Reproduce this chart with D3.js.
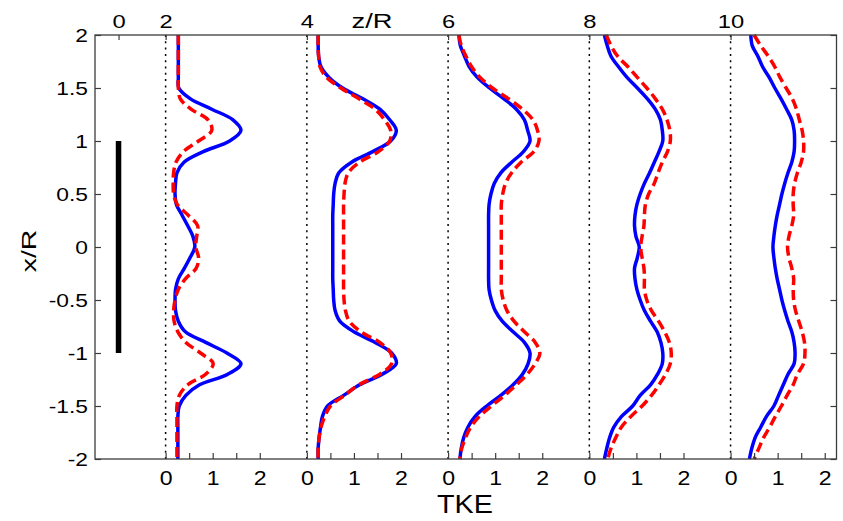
<!DOCTYPE html>
<html>
<head>
<meta charset="utf-8">
<script src="https://cdn.jsdelivr.net/npm/d3@7"></script>
<style>
  body { margin: 0; background: #fff; }
  svg { display: block; background: #fff; }
  text { font-family: "Liberation Sans", Arial, Helvetica, sans-serif; fill: #000; }
</style>
</head>
<body>
<svg id="chart" width="843" height="521"></svg>
<script>
// Transverse coordinate x/R, sampled from the top of the plot to the bottom
const xR = [2.0, 1.9, 1.8, 1.7, 1.6, 1.5, 1.4, 1.3, 1.2, 1.1, 1.0, 0.9, 0.8, 0.7, 0.6, 0.5, 0.4, 0.3, 0.2, 0.1, 0.0,
  -0.1, -0.2, -0.3, -0.4, -0.5, -0.6, -0.7, -0.8, -0.9, -1.0, -1.1, -1.2, -1.3, -1.4, -1.5, -1.6, -1.7, -1.8, -1.9, -2.0];

// Downstream stations z/R where the TKE profiles are taken
const stations = [2, 4, 6, 8, 10];

// TKE profiles, solid (blue) series
const blueZ2  = [0.27,0.27,0.27,0.27,0.27,0.28,0.52,0.98,1.43,1.60,1.36,0.80,0.39,0.24,0.21,0.20,0.23,0.35,0.47,0.58,0.62,
  0.52,0.40,0.27,0.21,0.20,0.21,0.27,0.42,0.85,1.30,1.60,1.32,0.72,0.43,0.29,0.26,0.26,0.26,0.26,0.26];
const blueZ4  = [0.24,0.24,0.25,0.30,0.47,0.76,1.18,1.55,1.76,1.90,1.78,1.40,0.95,0.68,0.60,0.57,0.56,0.55,0.55,0.55,0.55,
  0.55,0.55,0.55,0.56,0.57,0.60,0.70,1.00,1.45,1.80,1.90,1.60,1.12,0.78,0.44,0.33,0.29,0.26,0.24,0.24];
const blueZ6  = [0.23,0.26,0.35,0.45,0.62,0.88,1.18,1.45,1.62,1.69,1.74,1.60,1.35,1.12,0.98,0.91,0.87,0.86,0.86,0.86,0.86,
  0.86,0.86,0.86,0.87,0.92,1.00,1.15,1.38,1.62,1.74,1.70,1.58,1.38,1.12,0.82,0.57,0.42,0.33,0.28,0.25];
const blueZ8  = [0.32,0.38,0.46,0.62,0.80,1.02,1.23,1.40,1.51,1.55,1.56,1.48,1.38,1.28,1.17,1.08,1.01,0.97,0.96,0.99,1.06,
  1.02,0.96,0.97,1.01,1.08,1.17,1.30,1.44,1.52,1.56,1.55,1.45,1.30,1.08,0.92,0.68,0.52,0.43,0.37,0.32];
const blueZ10 = [0.43,0.46,0.58,0.68,0.82,0.94,1.07,1.19,1.30,1.35,1.36,1.35,1.30,1.22,1.15,1.09,1.04,0.99,0.95,0.92,0.90,
  0.92,0.95,0.99,1.04,1.09,1.15,1.22,1.30,1.35,1.37,1.35,1.22,1.12,1.02,0.92,0.76,0.64,0.52,0.45,0.40];

// TKE profiles, dashed (red) series
const redZ2  = [0.27,0.27,0.27,0.27,0.27,0.27,0.31,0.54,0.90,0.98,0.70,0.38,0.22,0.17,0.16,0.17,0.25,0.48,0.68,0.66,0.64,
  0.70,0.65,0.42,0.27,0.20,0.17,0.18,0.26,0.43,0.74,1.01,0.85,0.47,0.29,0.24,0.24,0.24,0.24,0.24,0.24];
const redZ4  = [0.24,0.24,0.25,0.28,0.42,0.72,1.10,1.45,1.65,1.78,1.76,1.52,1.12,0.88,0.81,0.79,0.78,0.78,0.78,0.78,0.78,
  0.78,0.78,0.78,0.78,0.79,0.82,0.90,1.15,1.55,1.78,1.80,1.55,1.10,0.80,0.50,0.38,0.30,0.26,0.24,0.24];
const redZ6  = [0.23,0.28,0.38,0.50,0.68,0.94,1.28,1.58,1.80,1.90,1.93,1.82,1.55,1.35,1.22,1.16,1.13,1.13,1.13,1.13,1.13,
  1.13,1.13,1.13,1.13,1.17,1.25,1.40,1.62,1.85,1.95,1.85,1.68,1.45,1.20,0.92,0.66,0.48,0.37,0.29,0.25];
const redZ8  = [0.36,0.46,0.60,0.82,1.02,1.22,1.40,1.55,1.65,1.71,1.72,1.66,1.55,1.46,1.38,1.26,1.19,1.17,1.16,1.12,1.09,
  1.12,1.16,1.17,1.17,1.22,1.32,1.47,1.60,1.70,1.74,1.72,1.62,1.48,1.32,1.12,0.88,0.68,0.56,0.46,0.39];
const redZ10 = [0.50,0.64,0.80,0.94,1.05,1.18,1.31,1.40,1.46,1.52,1.55,1.55,1.50,1.42,1.36,1.33,1.33,1.34,1.30,1.24,1.21,
  1.24,1.30,1.34,1.33,1.34,1.38,1.45,1.52,1.57,1.58,1.55,1.42,1.33,1.20,1.08,0.95,0.83,0.70,0.60,0.50];

const blueProfiles = [blueZ2, blueZ4, blueZ6, blueZ8, blueZ10];
const redProfiles  = [redZ2, redZ4, redZ6, redZ8, redZ10];

// Axis ticks and labels
const zTickValues = [4 / 3, 2, 4, 6, 8, 10];
const zTickLabels = ["0", "2", "4", "6", "8", "10"];
const yTickValues = [-2, -1.5, -1, -0.5, 0, 0.5, 1, 1.5, 2];
const yTickLabels = ["-2", "-1.5", "-1", "-0.5", "0", "0.5", "1", "1.5", "2"];
const tkeTickValues = [0, 0.5, 1, 1.5, 2];
const tkeTickLabels = ["0", "", "1", "", "2"];

// Rotor disc drawn at the z/R = 0 marker, spanning x/R from -1 to 1
const diskZ = 4 / 3;
const diskSpan = [-1, 1];

// One TKE unit spans two thirds of a z/R unit
const tkeToZ = 2 / 3;

const width = 843, height = 521;
const margin = { left: 95, right: 6.5, top: 35, bottom: 62 };

const svg = d3.select("#chart");

const x = d3.scaleLinear().domain([1, 11.5]).range([margin.left, width - margin.right]);
const y = d3.scaleLinear().domain([-2, 2]).range([height - margin.bottom, margin.top]);

const axisColor = "#3c3c3c";

// Stretch glyphs horizontally while keeping each label's anchor where the axis put it
function stretch(sel, sx) {
  sel.each(function () {
    const t = d3.select(this);
    const x0 = +t.attr("x") || 0;
    t.attr("x", x0 / sx).attr("transform", `scale(${sx},1)`);
  });
}

function styleAxis(g) {
  g.select(".domain").remove();
  g.selectAll(".tick line").attr("stroke", axisColor).attr("stroke-width", 1.2);
}

// Station reference lines (TKE = 0)
svg.append("g")
  .selectAll("line")
  .data(stations)
  .join("line")
  .attr("x1", d => x(d)).attr("x2", d => x(d))
  .attr("y1", y(2)).attr("y2", y(-2))
  .attr("stroke", "#000")
  .attr("stroke-width", 1.5)
  .attr("stroke-dasharray", "2,4.3");

// Rotor disc
svg.append("line")
  .attr("x1", x(diskZ)).attr("x2", x(diskZ))
  .attr("y1", y(diskSpan[1])).attr("y2", y(diskSpan[0]))
  .attr("stroke", "#000")
  .attr("stroke-width", 5.5);

// Profiles
const line = (station) => d3.line()
  .x(d => x(station + d[1] * tkeToZ))
  .y(d => y(d[0]))
  .curve(d3.curveCatmullRom.alpha(0.5));

const plot = svg.append("g");
stations.forEach((s, i) => {
  plot.append("path")
    .datum(xR.map((v, k) => [v, blueProfiles[i][k]]))
    .attr("fill", "none")
    .attr("stroke", "#0000ff")
    .attr("stroke-width", 3.5)
    .attr("stroke-linejoin", "round")
    .attr("d", line(s));
});
stations.forEach((s, i) => {
  plot.append("path")
    .datum(xR.map((v, k) => [v, redProfiles[i][k]]))
    .attr("fill", "none")
    .attr("stroke", "#ff0000")
    .attr("stroke-width", 3.5)
    .attr("stroke-dasharray", "10,5")
    .attr("d", line(s));
});

// Frame
svg.append("rect")
  .attr("x", x(1)).attr("y", y(2))
  .attr("width", x(11.5) - x(1)).attr("height", y(-2) - y(2))
  .attr("fill", "none")
  .attr("stroke", axisColor)
  .attr("stroke-width", 1.3);

// Left axis
const yLeft = svg.append("g")
  .attr("transform", `translate(${x(1)},0)`)
  .call(d3.axisLeft(y).tickValues(yTickValues)
    .tickFormat((d, i) => yTickLabels[i]).tickSize(-6).tickPadding(7))
  .call(styleAxis);
yLeft.selectAll("text").attr("font-size", 19).call(stretch, 1.2);

// Right axis (ticks only)
svg.append("g")
  .attr("transform", `translate(${x(11.5)},0)`)
  .call(d3.axisRight(y).tickValues(yTickValues).tickFormat("").tickSize(-6))
  .call(styleAxis);

// Top axis: z/R
const zTop = svg.append("g")
  .attr("transform", `translate(0,${y(2)})`)
  .call(d3.axisTop(x).tickValues(zTickValues)
    .tickFormat((d, i) => zTickLabels[i]).tickSize(-5).tickPadding(7))
  .call(styleAxis);
zTop.selectAll("text").attr("font-size", 19).call(stretch, 1.25);

// Bottom axes: one TKE scale per station
stations.forEach(s => {
  const tke = d3.scaleLinear().domain([0, 1]).range([x(s), x(s + tkeToZ)]);
  const g = svg.append("g")
    .attr("transform", `translate(0,${y(-2)})`)
    .call(d3.axisBottom(tke).tickValues(tkeTickValues)
      .tickFormat((d, i) => tkeTickLabels[i]).tickSize(-6).tickPadding(11))
    .call(styleAxis);
  g.selectAll("text").attr("font-size", 21).call(stretch, 1.1);
});

// Axis titles
svg.append("text")
  .attr("transform", `translate(372,28) scale(1.3,1)`)
  .attr("text-anchor", "middle")
  .attr("font-size", 21)
  .text("z/R");

svg.append("text")
  .attr("transform", `translate(465,513) scale(1.15,1)`)
  .attr("text-anchor", "middle")
  .attr("font-size", 25)
  .text("TKE");

svg.append("text")
  .attr("transform", `translate(36,251) rotate(-90) scale(1.35,1)`)
  .attr("text-anchor", "middle")
  .attr("font-size", 21)
  .text("x/R");
</script>
</body>
</html>
